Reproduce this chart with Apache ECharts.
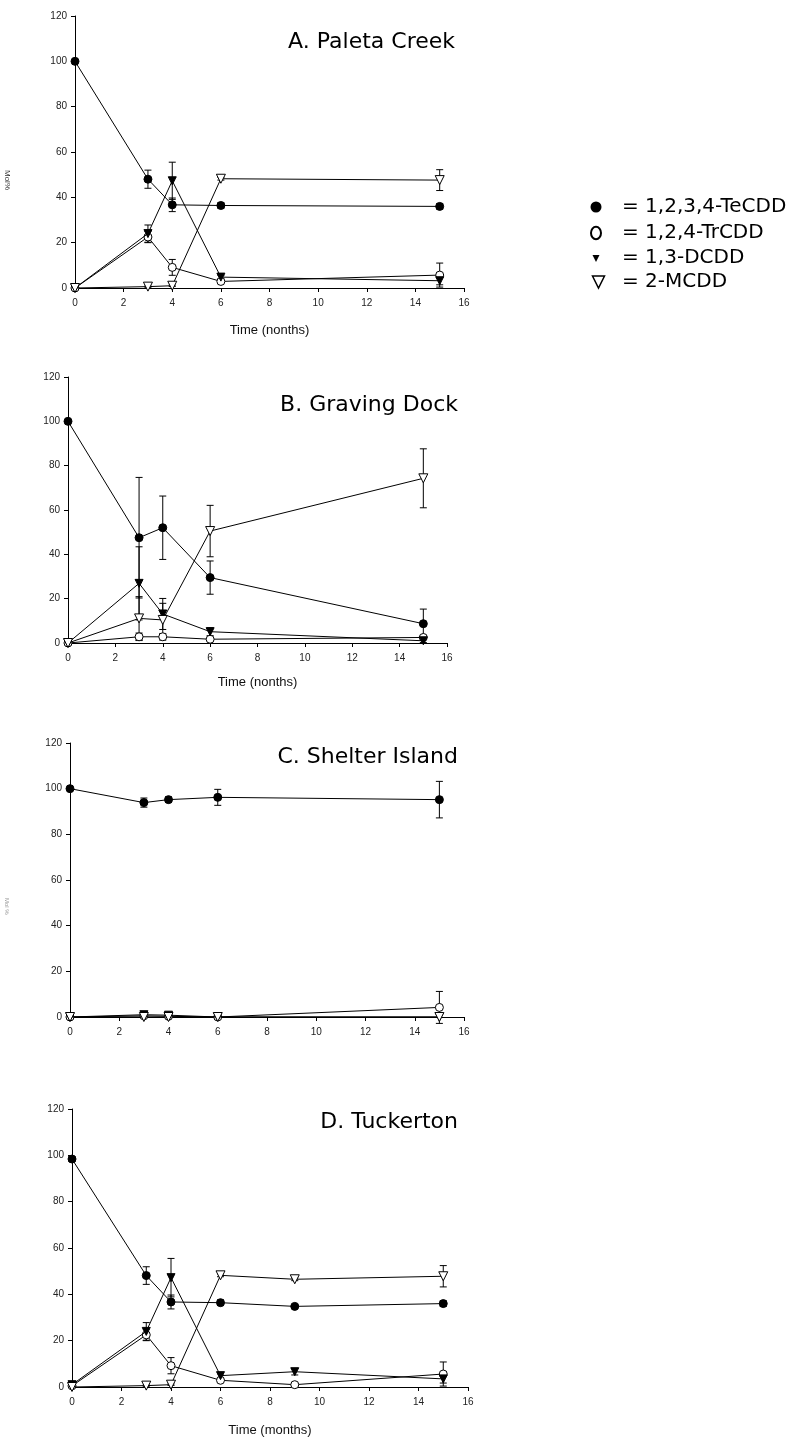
<!DOCTYPE html>
<html>
<head>
<meta charset="utf-8">
<title>Dioxin dechlorination</title>
<script src="https://cdn.jsdelivr.net/npm/echarts@6/dist/echarts.min.js"></script>
<style>
    html, body { margin: 0; padding: 0; background: #fff; }
    #main { width: 799px; height: 1439px; }
</style>
</head>
<body>
<div id="main"></div>
<script>
// 时间点（月）
var monthsABC = [0, 3, 4, 6, 15];
var monthsD = [0, 3, 4, 6, 9, 15];

// 坐标轴刻度
var xMin = 0, xMax = 16, xStep = 2;
var yMin = 0, yMax = 120, yStep = 20;

// 化合物名称
var compounds = ['1,2,3,4-TeCDD', '1,2,4-TrCDD', '1,3-DCDD', '2-MCDD'];

// A. Paleta Creek
var teA = [100, 48, 36.7, 36.4, 36];
var teErrA = [0, 4, 3, 1.2, 1.2];
var trA = [0, 22.5, 9.1, 2.9, 5.7];
var trErrA = [0, 2.5, 3.5, 0.5, 5.3];
var dcA = [0, 24, 47.3, 4.8, 3.2];
var dcErrA = [0, 3.8, 8.2, 0.8, 1.8];
var mcA = [0, 0.6, 1, 48.2, 47.6];
var mcErrA = [0, 0.3, 0.3, 0.6, 4.6];

// B. Graving Dock
var teB = [100, 47.5, 52, 29.5, 8.7];
var teErrB = [0, 27.2, 14.3, 7.5, 6.6];
var trB = [0, 2.8, 2.8, 1.7, 2.5];
var trErrB = [0, 1.7, 1.5, 0.5, 0.8];
var dcB = [0, 26.9, 13.1, 5.1, 1];
var dcErrB = [0, 16.5, 7, 1.8, 0.8];
var mcB = [0, 11.1, 10.4, 50.5, 74.3];
var mcErrB = [0, 9.8, 7.5, 11.6, 13.3];

// C. Shelter Island
var teC = [100, 93.9, 95.2, 96.2, 95.2];
var teErrC = [0, 2, 1.2, 3.5, 8];
var trC = [0, 0.5, 0.3, 0, 4.2];
var trErrC = [0, 0.3, 0.3, 0, 7];
var dcC = [0, 1, 0.8, 0, 0];
var dcErrC = [0, 0, 0, 0, 0];
var mcC = [0, 0, 0, 0, 0];
var mcErrC = [0, 0, 0, 0, 0];

// D. Tuckerton
var teD = [98.4, 48.1, 36.7, 36.4, 34.8, 36];
var teErrD = [1, 3.8, 3, 1.2, 0.5, 1.2];
var trD = [0.5, 22.5, 9.2, 2.9, 1, 5.6];
var trErrD = [0, 2.5, 3.5, 0.5, 0.5, 5.2];
var dcD = [1, 24, 47.2, 4.9, 6.6, 3.5];
var dcErrD = [0, 3.8, 8.3, 0.8, 1.4, 1.8];
var mcD = [0, 0.6, 1, 48.2, 46.5, 47.8];
var mcErrD = [0, 0.3, 0.3, 0.6, 0.6, 4.6];

var panels = [
    { title: 'A. Paleta Creek', xName: 'Time (nonths)', months: monthsABC,
      values: [teA, trA, dcA, mcA], errors: [teErrA, trErrA, dcErrA, mcErrA] },
    { title: 'B. Graving Dock', xName: 'Time (nonths)', months: monthsABC,
      values: [teB, trB, dcB, mcB], errors: [teErrB, trErrB, dcErrB, mcErrB] },
    { title: 'C. Shelter Island', xName: '', months: monthsABC,
      values: [teC, trC, dcC, mcC], errors: [teErrC, trErrC, dcErrC, mcErrC] },
    { title: 'D. Tuckerton', xName: 'Time (months)', months: monthsD,
      values: [teD, trD, dcD, mcD], errors: [teErrD, trErrD, dcErrD, mcErrD] }
];

// 每个小图的位置（像素）
var layout = [
    { left: 75, top: 16, width: 389, height: 272, nameGap: 36, titleRight: 344, titleTop: 31 },
    { left: 68, top: 377, width: 379, height: 266, nameGap: 33, titleRight: 341, titleTop: 394 },
    { left: 70, top: 743, width: 394, height: 274, nameGap: 36, titleRight: 341, titleTop: 746 },
    { left: 72, top: 1109, width: 396, height: 278, nameGap: 37, titleRight: 341, titleTop: 1111 }
];

// 各化合物的点样式
var markStyles = [
    { symbol: 'circle', size: 8, rotate: 0, fill: '#000' },
    { symbol: 'circle', size: 8, rotate: 0, fill: '#fff' },
    { symbol: 'triangle', size: 8, rotate: 180, fill: '#000' },
    { symbol: 'triangle', size: 9, rotate: 180, fill: '#fff' }
];

var smallFont = 'Liberation Sans, Arial, sans-serif';
var bigFont = 'DejaVu Sans, sans-serif';

// 误差线
function renderErrorBar(params, api) {
    var x = api.value(0), y = api.value(1), e = api.value(2);
    var top = api.coord([x, y + e]);
    var bottom = api.coord([x, y - e]);
    var half = 3.5;
    var style = { stroke: '#000', lineWidth: 1 };
    return {
        type: 'group',
        children: [
            { type: 'line', shape: { x1: top[0], y1: top[1], x2: bottom[0], y2: bottom[1] }, style: style },
            { type: 'line', shape: { x1: top[0] - half, y1: top[1], x2: top[0] + half, y2: top[1] }, style: style },
            { type: 'line', shape: { x1: bottom[0] - half, y1: bottom[1], x2: bottom[0] + half, y2: bottom[1] }, style: style }
        ]
    };
}

var myChart = echarts.init(document.getElementById('main'));

var option = {
    backgroundColor: '#fff',
    animation: false,
    title: [],
    grid: [],
    xAxis: [],
    yAxis: [],
    series: [],
    graphic: []
};

panels.forEach(function (p, k) {
    var L = layout[k];
    option.title.push({
        text: p.title,
        right: L.titleRight,
        top: L.titleTop,
        padding: 0,
        textStyle: { fontFamily: bigFont, fontSize: 22, fontWeight: 'normal', color: '#000' }
    });
    option.grid.push({ left: L.left, top: L.top, width: L.width, height: L.height, containLabel: false });
    option.xAxis.push({
        gridIndex: k,
        type: 'value',
        min: xMin, max: xMax, interval: xStep,
        name: p.xName,
        nameLocation: 'middle',
        nameGap: L.nameGap,
        nameTextStyle: { fontFamily: smallFont, fontSize: 13, color: '#111' },
        axisLine: { lineStyle: { color: '#000', width: 1 } },
        axisTick: { show: true, inside: false, length: 4, lineStyle: { color: '#000' } },
        axisLabel: { margin: 10, fontFamily: smallFont, fontSize: 10, color: '#222' },
        splitLine: { show: false }
    });
    option.yAxis.push({
        gridIndex: k,
        type: 'value',
        min: yMin, max: yMax, interval: yStep,
        axisLine: { show: true, lineStyle: { color: '#000', width: 1 } },
        axisTick: { show: true, inside: false, length: 4, lineStyle: { color: '#000' } },
        axisLabel: { margin: 8, fontFamily: smallFont, fontSize: 10, color: '#222' },
        splitLine: { show: false }
    });

    // 误差线在下层
    p.values.forEach(function (vals, j) {
        var errData = [];
        p.months.forEach(function (m, i) {
            if (p.errors[j][i] > 0) errData.push([m, vals[i], p.errors[j][i]]);
        });
        option.series.push({
            type: 'custom',
            name: compounds[j] + ' error',
            xAxisIndex: k,
            yAxisIndex: k,
            z: 1,
            silent: true,
            renderItem: renderErrorBar,
            encode: { x: 0, y: 1 },
            data: errData
        });
    });

    p.values.forEach(function (vals, j) {
        var st = markStyles[j];
        option.series.push({
            type: 'line',
            name: compounds[j],
            xAxisIndex: k,
            yAxisIndex: k,
            z: 3 + j,
            symbol: st.symbol,
            symbolSize: st.size,
            symbolRotate: st.rotate,
            showAllSymbol: true,
            lineStyle: { color: '#000', width: 1 },
            itemStyle: { color: st.fill, borderColor: '#000', borderWidth: 1 },
            data: p.months.map(function (m, i) { return [m, vals[i]]; })
        });
    });
});

// 图例（右上）
var legendY = [207, 233, 258, 282];
option.graphic.push(
    { type: 'circle', shape: { cx: 596, cy: legendY[0], r: 5.5 }, style: { fill: '#000' } },
    { type: 'ellipse', shape: { cx: 596, cy: legendY[1], rx: 5, ry: 6.2 }, style: { fill: 'none', stroke: '#000', lineWidth: 2 } },
    { type: 'polygon', shape: { points: [[592.5, legendY[2] - 3], [599.5, legendY[2] - 3], [596, legendY[2] + 4]] }, style: { fill: '#000' } },
    { type: 'polygon', shape: { points: [[592.5, legendY[3] - 6], [604.5, legendY[3] - 6], [598.5, legendY[3] + 6]] }, style: { fill: 'none', stroke: '#000', lineWidth: 1.5 } }
);
compounds.forEach(function (c, j) {
    option.graphic.push({
        type: 'text',
        x: 622,
        y: legendY[j],
        style: { text: '= ' + c, fontFamily: bigFont, fontSize: 20, fill: '#000', textVerticalAlign: 'middle' }
    });
});

// y轴小字
option.graphic.push(
    { type: 'text', x: 11, y: 170, rotation: -Math.PI / 2, style: { text: 'Mol%', fontFamily: smallFont, fontSize: 8, fill: '#333' } },
    { type: 'text', x: 10, y: 898, rotation: -Math.PI / 2, style: { text: 'Mol %', fontFamily: smallFont, fontSize: 6, fill: '#999' } }
);

myChart.setOption(option);

window.onresize = function () {
    myChart.resize();
};
</script>
</body>
</html>
